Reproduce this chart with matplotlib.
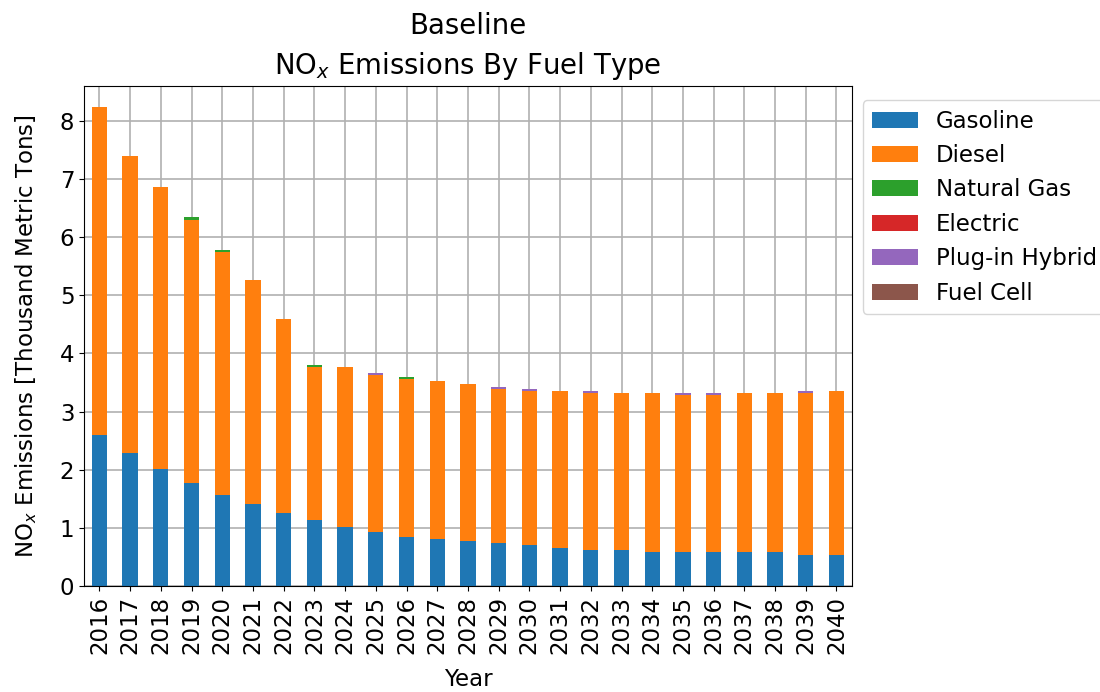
import pandas as pd
import matplotlib
matplotlib.use('Agg')
import matplotlib.pyplot as plt

years = list(range(2016, 2041))
gasoline = [2.60, 2.29, 2.01, 1.77, 1.56, 1.41, 1.25, 1.13, 1.01, 0.93, 0.85, 0.81, 0.77,
            0.74, 0.70, 0.65, 0.62, 0.62, 0.58, 0.58, 0.58, 0.58, 0.58, 0.54, 0.54]
diesel = [5.64, 5.11, 4.85, 4.53, 4.18, 3.85, 3.34, 2.63, 2.75, 2.70, 2.71, 2.71, 2.71,
          2.65, 2.65, 2.71, 2.70, 2.70, 2.74, 2.70, 2.70, 2.74, 2.74, 2.78, 2.82]
natural_gas = [0.0, 0.0, 0.0, 0.04, 0.04, 0.0, 0.0, 0.04, 0.0, 0.0, 0.04, 0.0, 0.0,
               0.0, 0.0, 0.0, 0.0, 0.0, 0.0, 0.0, 0.0, 0.0, 0.0, 0.0, 0.0]
electric = [0.0] * 25
plugin_hybrid = [0.0, 0.0, 0.0, 0.0, 0.0, 0.0, 0.0, 0.0, 0.0, 0.04, 0.0, 0.0, 0.0,
                 0.04, 0.04, 0.0, 0.04, 0.0, 0.0, 0.04, 0.04, 0.0, 0.0, 0.04, 0.0]
fuel_cell = [0.0] * 25

df = pd.DataFrame({
    'Gasoline': gasoline,
    'Diesel': diesel,
    'Natural Gas': natural_gas,
    'Electric': electric,
    'Plug-in Hybrid': plugin_hybrid,
    'Fuel Cell': fuel_cell,
}, index=years)

plt.rcParams['font.size'] = 16.5

fig = plt.figure(figsize=(11, 6.92), dpi=100)
ax = fig.add_axes([0.0764, 0.1532, 0.698, 0.7225])
df.plot.bar(stacked=True, ax=ax, width=0.5, legend=False)

ax.set_axisbelow(True)
ax.grid(True, color='#b0b0b0', linewidth=1.2)
ax.set_ylim(0, 8.6)
ax.set_xlim(-0.5, 24.5)
ax.set_xlabel('Year', labelpad=10)
ax.set_ylabel('NO$_x$ Emissions [Thousand Metric Tons]', labelpad=15)
ax.set_title('Baseline\nNO$_x$ Emissions By Fuel Type', linespacing=1.4, pad=9)
ax.legend(loc='upper left', bbox_to_anchor=(1.005, 0.985), borderaxespad=0.3,
          labelspacing=0.5)

fig.savefig('out.png', dpi=100)
